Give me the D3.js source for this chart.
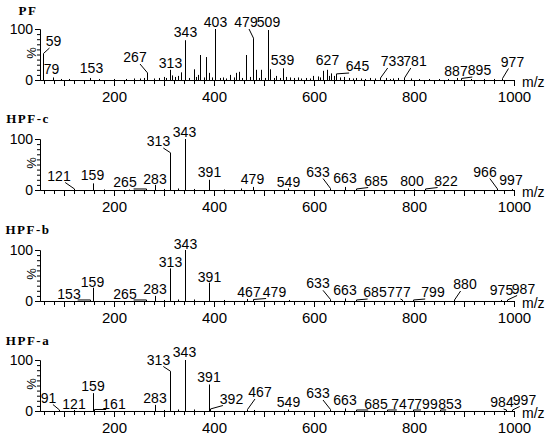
<!DOCTYPE html>
<html>
<head>
<meta charset="utf-8">
<script src="https://cdn.jsdelivr.net/npm/d3@7"></script>
<style>
  body { margin: 0; background: #fff; }
  svg { display: block; }
  text { font-family: Arial, 'Liberation Sans', sans-serif; fill: #000; }
</style>
</head>
<body>
<svg id="chart" width="550" height="439"></svg>
<script>
const panelNames = ['PF', 'HPF-c', 'HPF-b', 'HPF-a']
const mzTicks = [200, 400, 600, 800, 1000]
const pctTicks = [0, 100]

/* peaks as [m/z, relative intensity %] */
const pfPeaks = [[59, 52], [79, 5], [95, 2], [110, 2], [153, 4], [170, 2], [200, 2], [225, 2], [240, 3], [252, 3],
  [260, 4], [267, 14], [280, 3], [290, 4], [300, 6], [305, 4], [313, 20], [317, 9], [322, 6], [328, 8], [335, 15],
  [343, 78], [350, 4], [360, 21], [365, 6], [369, 10], [373, 49], [380, 5], [385, 45], [390, 14], [396, 5],
  [403, 100], [412, 4], [419, 5], [425, 3], [433, 10], [440, 5], [445, 14], [451, 16], [457, 4], [464, 49],
  [472, 6], [479, 82], [484, 20], [490, 4], [495, 20], [502, 4], [509, 98], [513, 21], [520, 4], [525, 8],
  [532, 4], [539, 23], [545, 6], [553, 5], [560, 4], [568, 5], [575, 3], [585, 4], [592, 3], [599, 8], [608, 7],
  [613, 5], [619, 18], [627, 20], [631, 8], [635, 13], [642, 8], [645, 12], [653, 5], [660, 6], [670, 4],
  [678, 3], [685, 4], [695, 3], [703, 2], [712, 4], [722, 3], [733, 4], [745, 4], [752, 2], [759, 3], [769, 4],
  [781, 4], [795, 3], [810, 2], [830, 2], [850, 2], [868, 2], [887, 4], [895, 3], [915, 2], [940, 2], [960, 2],
  [977, 3]]
const hpfcPeaks = [[121, 2], [159, 13], [180, 1], [230, 1], [265, 2], [283, 10], [300, 2], [313, 73], [328, 3],
  [343, 100], [360, 2], [391, 20], [420, 1], [455, 3], [479, 6], [549, 3], [633, 3], [663, 6], [685, 2],
  [800, 2], [822, 2], [966, 2], [997, 2]]
const hpfbPeaks = [[153, 2], [159, 26], [265, 2], [283, 10], [300, 2], [313, 64], [328, 3], [343, 100], [360, 3],
  [391, 36], [420, 2], [467, 4], [479, 3], [550, 2], [633, 3], [663, 5], [685, 2], [777, 2], [799, 2], [880, 2],
  [975, 2], [987, 2]]
const hpfaPeaks = [[91, 2], [121, 2], [159, 35], [161, 3], [283, 12], [300, 2], [313, 78], [328, 3], [343, 100],
  [360, 3], [391, 52], [392, 4], [467, 3], [480, 2], [549, 3], [633, 3], [663, 5], [685, 2], [747, 2], [799, 2],
  [853, 2], [984, 2], [997, 2]]

/* labelled m/z values */
const pfLabels = [59, 79, 153, 267, 313, 343, 403, 479, 509, 539, 627, 645, 733, 781, 887, 895, 977]
const hpfcLabels = [121, 159, 265, 283, 313, 343, 391, 479, 549, 633, 663, 685, 800, 822, 966, 997]
const hpfbLabels = [153, 159, 265, 283, 313, 343, 391, 467, 479, 633, 663, 685, 777, 799, 880, 975, 987]
const hpfaLabels = [91, 121, 159, 161, 283, 313, 343, 391, 392, 467, 549, 633, 663, 685, 747, 799, 853, 984, 997]

/* label layout: [x shift from peak, baseline height above axis] in px */
const pfLabelPos = [[10, 34], [-2, 6], [1, 7], [-12.5, 18], [0, 12], [0, 43], [0, 53], [-7.5, 53], [0, 53],
  [-1, 15], [0, 15], [21, 9], [12, 14], [10.5, 14], [-1.5, 4], [18, 5], [10, 13.5]]
const hpfcLabelPos = [[-15.5, 9.5], [-1, 10], [-21.5, 3], [-0.5, 6], [-12, 44], [-1, 53], [0, 13], [-1, 6],
  [0, 3.5], [-12.5, 13.5], [-0.5, 7.5], [19.5, 4.5], [-2, 4.5], [21, 4.5], [-12, 13.5], [-1.5, 5.5]]
const hpfbLabelPos = [[-21.5, 2], [-1, 14], [-21.5, 2.5], [-0.5, 7], [0, 34.5], [0, 52], [0, 19.5], [1.5, 4.5],
  [21, 4.5], [-12.5, 12.7], [-0.5, 6], [18.5, 4], [-3.5, 4], [19.5, 4], [11, 12], [0, 6], [16, 7.5]]
const hpfaLabelPos = [[-11, 8.5], [-0.5, 2], [-0.5, 20], [19.5, 2], [-0.5, 8.5], [-12, 46.5], [-1, 54],
  [-0.5, 29], [21.5, 7.5], [12.5, 14], [0, 4], [-12.5, 13], [-0.5, 6], [19.5, 2.5], [15.5, 2.5], [12.5, 2.5],
  [9.5, 2.5], [-4, 4], [12, 6.5]]

const panels = [
  { name: panelNames[0], peaks: pfPeaks, labels: pfLabels, pos: pfLabelPos },
  { name: panelNames[1], peaks: hpfcPeaks, labels: hpfcLabels, pos: hpfcLabelPos },
  { name: panelNames[2], peaks: hpfbPeaks, labels: hpfbLabels, pos: hpfbLabelPos },
  { name: panelNames[3], peaks: hpfaPeaks, labels: hpfaLabels, pos: hpfaLabelPos }
]

const baseY = [80, 190, 301, 411]
const titleY = [15, 123, 234, 345]
const plotH = 51

const svg = d3.select('#chart')

/* shared m/z scale */
const x = d3.scaleLinear().domain([52, 1000]).range([40, 514])
const snap = v => Math.round(v - 0.5) + 0.5

panels.forEach((p, i) => {
  let y = d3.scaleLinear().domain([0, 100]).range([baseY[i], baseY[i] - plotH])
  let g = svg.append('g')

  /* title */
  g.append('text')
    .attr('x', 28)
    .attr('y', titleY[i])
    .attr('text-anchor', 'middle')
    .style('font-family', "'Times New Roman', 'Liberation Serif', serif")
    .style('font-weight', 'bold')
    .style('font-size', '13px')
    .style('letter-spacing', '1.5px')
    .text(p.name)

  /* minor x ticks */
  g.append('g')
    .attr('transform', `translate(0, ${baseY[i]})`)
    .call(d3.axisBottom(x).tickValues(d3.range(60, 1001, 20)).tickSize(4).tickSizeOuter(0).tickFormat(''))

  /* major x ticks with labels */
  let xa = g.append('g')
    .attr('transform', `translate(0, ${baseY[i]})`)
    .call(d3.axisBottom(x).tickValues(d3.range(100, 1001, 100)).tickSize(6).tickSizeOuter(0)
      .tickFormat(d => mzTicks.includes(d) ? d : ''))
  xa.selectAll('text')
    .attr('y', 22)
    .attr('dy', null)
    .style('font-size', '15px')
    .style('font-family', "Arial, 'Liberation Sans', sans-serif")

  /* y axis */
  g.append('g')
    .attr('transform', 'translate(40, 0)')
    .call(d3.axisLeft(y).tickValues(d3.range(0, 101, 10)).tickSize(3).tickSizeOuter(0).tickFormat(''))
  let ya = g.append('g')
    .attr('transform', 'translate(40, 0)')
    .call(d3.axisLeft(y).tickValues(pctTicks).tickSize(5).tickSizeOuter(0).tickPadding(2))
  ya.selectAll('text')
    .style('font-size', '14px')
    .style('font-family', "Arial, 'Liberation Sans', sans-serif")
  svg.selectAll('.domain').attr('stroke', '#000')

  g.append('text')
    .attr('transform', `translate(31, ${baseY[i] - plotH + 24}) rotate(-90)`)
    .attr('text-anchor', 'middle')
    .attr('dy', '0.35em')
    .style('font-size', '13px')
    .text('%')

  g.append('text')
    .attr('x', 522)
    .attr('y', baseY[i] + 7)
    .style('font-size', '14px')
    .text('m/z')

  /* peaks */
  g.selectAll('line.peak')
    .data(p.peaks)
    .enter()
    .append('line')
      .attr('class', 'peak')
      .attr('x1', d => snap(x(d[0])))
      .attr('x2', d => snap(x(d[0])))
      .attr('y1', baseY[i])
      .attr('y2', d => y(d[1]))
      .attr('stroke', '#000')
      .attr('stroke-width', 1)

  /* peak labels with leader lines */
  let lab = p.labels.map((mz, k) => {
    let pk = p.peaks.find(d => d[0] === mz)
    return { mz, pct: pk ? pk[1] : 0, dx: p.pos[k][0], h: p.pos[k][1] }
  })

  g.selectAll('line.leader')
    .data(lab.filter(d => Math.abs(d.dx) > 3))
    .enter()
    .append('line')
      .attr('class', 'leader')
      .attr('x1', d => snap(x(d.mz)))
      .attr('y1', d => y(d.pct))
      .attr('x2', d => x(d.mz) + d.dx * 0.6)
      .attr('y2', d => Math.min(baseY[i] - d.h + 2, y(d.pct)))
      .attr('stroke', '#000')
      .attr('stroke-width', 1)

  g.selectAll('text.lab')
    .data(lab)
    .enter()
    .append('text')
      .attr('class', 'lab')
      .attr('x', d => x(d.mz) + d.dx)
      .attr('y', d => baseY[i] - d.h)
      .attr('text-anchor', 'middle')
      .style('font-size', '14px')
      .text(d => d.mz)
})
</script>
</body>
</html>
